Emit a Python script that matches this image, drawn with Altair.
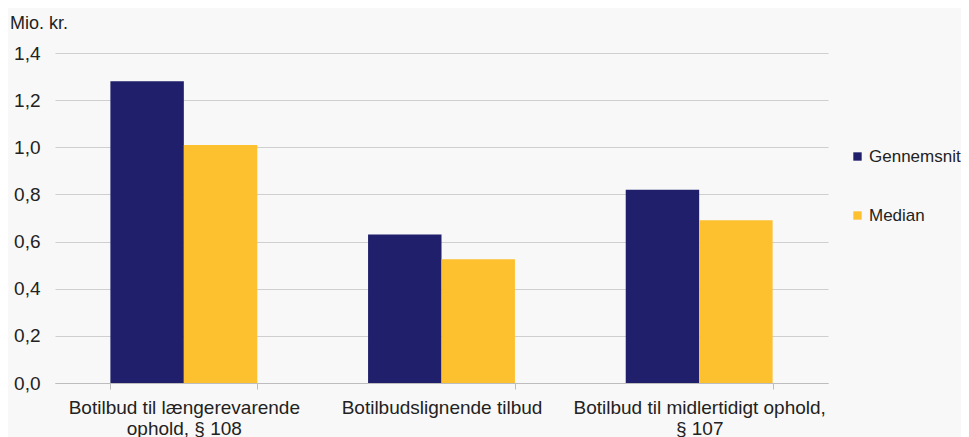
import altair as alt
import pandas as pd

categories = ["Botilbud til længerevarende|ophold, § 108", "Botilbudslignende tilbud", "Botilbud til midlertidigt ophold,|§ 107"]
series = ["Gennemsnit", "Median"]
gennemsnit = [1.28, 0.63, 0.82]
median = [1.01, 0.525, 0.69]

rows = []
for i, c in enumerate(categories):
    rows.append({"kategori": c, "serie": series[0], "værdi": gennemsnit[i]})
    rows.append({"kategori": c, "serie": series[1], "værdi": median[i]})
df = pd.DataFrame(rows)

font = "Liberation Sans"

bars = alt.Chart(df).mark_bar().encode(
    x=alt.X("kategori:N", sort=categories, title=None,
            scale=alt.Scale(paddingInner=0.43, paddingOuter=0.215),
            axis=alt.Axis(labelAngle=0, labelExpr="split(datum.label, '|')",
                          labelFontSize=19, labelColor="#222222", labelFont=font,
                          labelPadding=9, labelLineHeight=21, tickBand="extent",
                          labelLimit=400,
                          domainColor="#bdbdbd", tickColor="#bdbdbd", tickSize=6,
                          grid=False, labelBaseline="top")),
    xOffset=alt.XOffset("serie:N", sort=series),
    y=alt.Y("værdi:Q", title=None,
            scale=alt.Scale(domain=[0, 1.4]),
            axis=alt.Axis(values=[0, 0.2, 0.4, 0.6, 0.8, 1.0, 1.2, 1.4],
                          labelExpr="replace(format(datum.value, '.1f'), '.', ',')",
                          labelFontSize=19, labelColor="#222222", labelFont=font,
                          labelPadding=15, ticks=False, domain=False,
                          gridColor="#cfcfcf", gridWidth=1)),
    color=alt.Color("serie:N", sort=series,
                    scale=alt.Scale(domain=series, range=["#1f1f6b", "#fdc02f"]),
                    legend=alt.Legend(title=None, orient="none", legendX=794, legendY=95,
                                      symbolType="square", symbolSize=70,
                                      symbolStrokeWidth=0, labelLimit=300,
                                      labelFontSize=17, labelFont=font, labelColor="#222222",
                                      rowPadding=41, labelOffset=3)),
)

title = alt.Chart(pd.DataFrame({"t": ["Mio. kr."]})).mark_text(
    align="left", baseline="middle", fontSize=18, font=font, color="#222222"
).encode(x=alt.value(-45), y=alt.value(-29), text="t:N")

chart = alt.layer(bars, title).properties(
    width=773, height=330,
    padding={"left": 47, "top": 45, "right": 133, "bottom": 60},
    autosize=alt.AutoSizeParams(type="none"),
    background="#f8f8f8",
).configure_view(stroke=None)

chart.save("out.html", embed_options={"renderer": "svg", "actions": False})
